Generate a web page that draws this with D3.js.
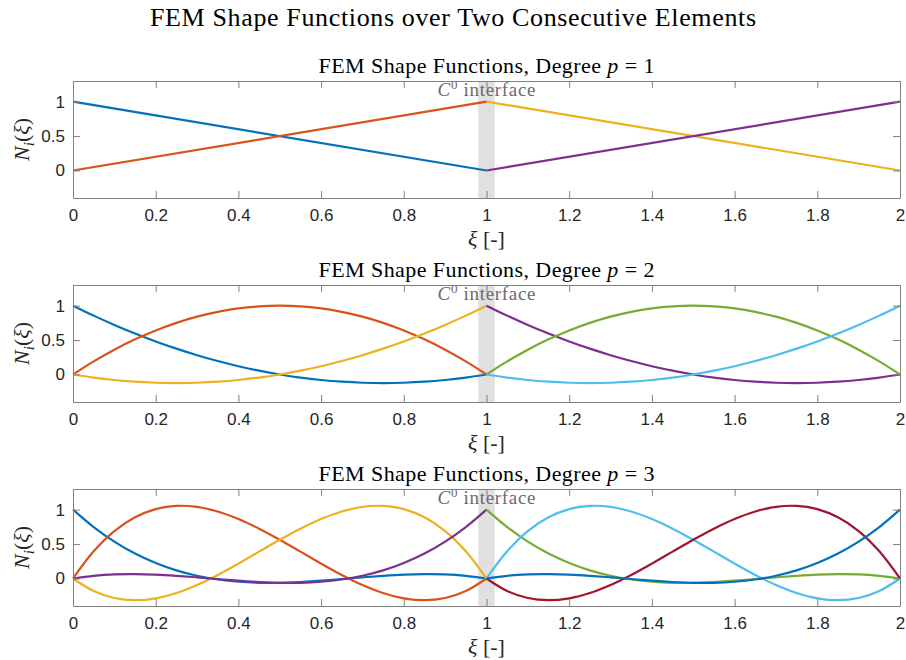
<!DOCTYPE html>
<html>
<head>
<meta charset="utf-8">
<script src="https://cdn.jsdelivr.net/npm/d3@7"></script>
<style>
  body { margin: 0; background: #fff; }
  svg { display: block; }
  .tick text { font-family: "Liberation Sans", Arial, sans-serif; font-size: 17px; fill: #262626; }
  .serif { font-family: "Liberation Serif", "DejaVu Serif", serif; }
</style>
</head>
<body>
<div id="chart"></div>
<script>
// local coordinate inside an element, 0..1
const xiLocal = [0, 0.05, 0.1, 0.15, 0.2, 0.25, 0.3, 0.35, 0.4, 0.45, 0.5,
                 0.55, 0.6, 0.65, 0.7, 0.75, 0.8, 0.85, 0.9, 0.95, 1];
const xiLinear = [0, 1];

// degree 1
const p1N1 = [1, 0];
const p1N2 = [0, 1];

// degree 2
const p2N1 = [1, 0.855, 0.72, 0.595, 0.48, 0.375, 0.28, 0.195, 0.12, 0.055, 0,
              -0.045, -0.08, -0.105, -0.12, -0.125, -0.12, -0.105, -0.08, -0.045, 0];
const p2N2 = [0, 0.19, 0.36, 0.51, 0.64, 0.75, 0.84, 0.91, 0.96, 0.99, 1,
              0.99, 0.96, 0.91, 0.84, 0.75, 0.64, 0.51, 0.36, 0.19, 0];
const p2N3 = [0, -0.045, -0.08, -0.105, -0.12, -0.125, -0.12, -0.105, -0.08, -0.045, 0,
              0.055, 0.12, 0.195, 0.28, 0.375, 0.48, 0.595, 0.72, 0.855, 1];

// degree 3
const p3N1 = [1, 0.747, 0.536, 0.362, 0.224, 0.117, 0.039, -0.015, -0.048, -0.063, -0.063,
              -0.051, -0.032, -0.008, 0.017, 0.039, 0.056, 0.064, 0.060, 0.039, 0];
const p3N2 = [0, 0.395, 0.689, 0.889, 1.008, 1.055, 1.040, 0.973, 0.864, 0.724, 0.563,
              0.390, 0.216, 0.051, -0.095, -0.211, -0.288, -0.316, -0.284, -0.182, 0];
const p3N3 = [0, -0.182, -0.284, -0.316, -0.288, -0.211, -0.095, 0.051, 0.216, 0.390, 0.563,
              0.724, 0.864, 0.973, 1.040, 1.055, 1.008, 0.889, 0.689, 0.395, 0];
const p3N4 = [0, 0.039, 0.060, 0.064, 0.056, 0.039, 0.017, -0.008, -0.032, -0.051, -0.063,
              -0.063, -0.048, -0.015, 0.039, 0.117, 0.224, 0.362, 0.536, 0.747, 1];

const degrees = [1, 2, 3];
const localX = [xiLinear, xiLocal, xiLocal];
const shapeSets = [[p1N1, p1N2], [p2N1, p2N2, p2N3], [p3N1, p3N2, p3N3, p3N4]];
const elementStarts = [0, 1];

const xTicks = [0, 0.2, 0.4, 0.6, 0.8, 1, 1.2, 1.4, 1.6, 1.8, 2];
const yTicks = [0, 0.5, 1];
const xDomain = [0, 2];
const yDomain = [-0.4, 1.3];
const band = [0.98, 1.02];

const colors = ['#0072BD', '#D95319', '#EDB120', '#7E2F8E', '#77AC30', '#4DBEEE', '#A2142F'];

const W = 906, H = 660;
const left = 73, right = 900;
const tops = [81, 285, 489];
const axH = 117;
const axisCol = '#808080';

const svg = d3.select('#chart').append('svg')
    .attr('width', W)
    .attr('height', H);

// main title
svg.append('text')
    .attr('class', 'serif')
    .attr('x', W / 2)
    .attr('y', 26)
    .attr('text-anchor', 'middle')
    .attr('font-size', 26)
    .attr('textLength', 606)
    .attr('lengthAdjust', 'spacing')
    .attr('fill', '#000')
    .text('FEM Shape Functions over Two Consecutive Elements');

const x = d3.scaleLinear().domain(xDomain).range([left, right]);

degrees.forEach((p, k) => {
    const top = tops[k];
    const y = d3.scaleLinear().domain(yDomain).range([top + axH, top]);
    const g = svg.append('g');

    // interface band
    g.append('rect')
        .attr('x', x(band[0]))
        .attr('y', top)
        .attr('width', x(band[1]) - x(band[0]))
        .attr('height', axH)
        .attr('fill', '#e0e0e0');

    // text over band
    const c0 = g.append('text')
        .attr('class', 'serif')
        .attr('x', x(1))
        .attr('y', top + 15)
        .attr('text-anchor', 'middle')
        .attr('font-size', 19)
        .attr('textLength', 98)
        .attr('lengthAdjust', 'spacing')
        .attr('fill', '#6b6b6b');
    c0.append('tspan').attr('font-style', 'italic').text('C');
    c0.append('tspan').attr('dy', -7).attr('font-size', 13).text('0');
    c0.append('tspan').attr('dy', 7).text(' interface');

    // shape functions, colour order continues across both elements
    const line = d3.line()
        .x(d => x(d[0]))
        .y(d => y(d[1]))
        .curve(d3.curveCatmullRom);

    let ci = 0;
    elementStarts.forEach(x0 => {
        shapeSets[k].forEach(vals => {
            const pts = localX[k].map((t, i) => [x0 + t, vals[i]]);
            g.append('path')
                .attr('d', line(pts))
                .attr('fill', 'none')
                .attr('stroke', colors[ci % colors.length])
                .attr('stroke-width', 2.2)
                .attr('stroke-linejoin', 'round');
            ci++;
        });
    });

    // axes with inward ticks on all four sides
    const ax = (gen, tx, ty) => {
        const a = g.append('g').attr('transform', `translate(${tx},${ty})`).call(gen);
        a.selectAll('path, line').attr('stroke', axisCol);
        return a;
    };
    ax(d3.axisBottom(x).tickValues(xTicks).tickFormat(d3.format('')).tickSizeInner(-7).tickSizeOuter(0).tickPadding(11), 0, top + axH);
    ax(d3.axisTop(x).tickValues(xTicks).tickFormat('').tickSizeInner(-7).tickSizeOuter(0), 0, top);
    ax(d3.axisLeft(y).tickValues(yTicks).tickFormat(d3.format('')).tickSizeInner(-7).tickSizeOuter(0).tickPadding(8), left, 0);
    ax(d3.axisRight(y).tickValues(yTicks).tickFormat('').tickSizeInner(-7).tickSizeOuter(0), right, 0);

    // subplot title
    const t = g.append('text')
        .attr('class', 'serif')
        .attr('x', (left + right) / 2)
        .attr('y', top - 8)
        .attr('text-anchor', 'middle')
        .attr('font-size', 22)
        .attr('textLength', 336)
        .attr('lengthAdjust', 'spacing')
        .attr('fill', '#000');
    t.append('tspan').text('FEM Shape Functions, Degree ');
    t.append('tspan').attr('font-style', 'italic').text('p');
    t.append('tspan').text(' = ' + p);

    // x label
    const xl = g.append('text')
        .attr('class', 'serif')
        .attr('x', (left + right) / 2)
        .attr('y', top + axH + 48)
        .attr('text-anchor', 'middle')
        .attr('font-size', 22)
        .attr('fill', '#262626');
    xl.append('tspan').attr('font-style', 'italic').text('ξ');
    xl.append('tspan').text('  [-]');

    // y label
    const yl = g.append('text')
        .attr('class', 'serif')
        .attr('transform', `translate(29,${top + axH / 2}) rotate(-90)`)
        .attr('text-anchor', 'middle')
        .attr('font-size', 22)
        .attr('fill', '#262626');
    yl.append('tspan').attr('font-style', 'italic').text('N');
    yl.append('tspan').attr('font-style', 'italic').attr('font-size', 15).attr('dy', 5).text('i');
    yl.append('tspan').attr('dy', -5).text('(');
    yl.append('tspan').attr('font-style', 'italic').text('ξ');
    yl.append('tspan').text(')');
});
</script>
</body>
</html>
